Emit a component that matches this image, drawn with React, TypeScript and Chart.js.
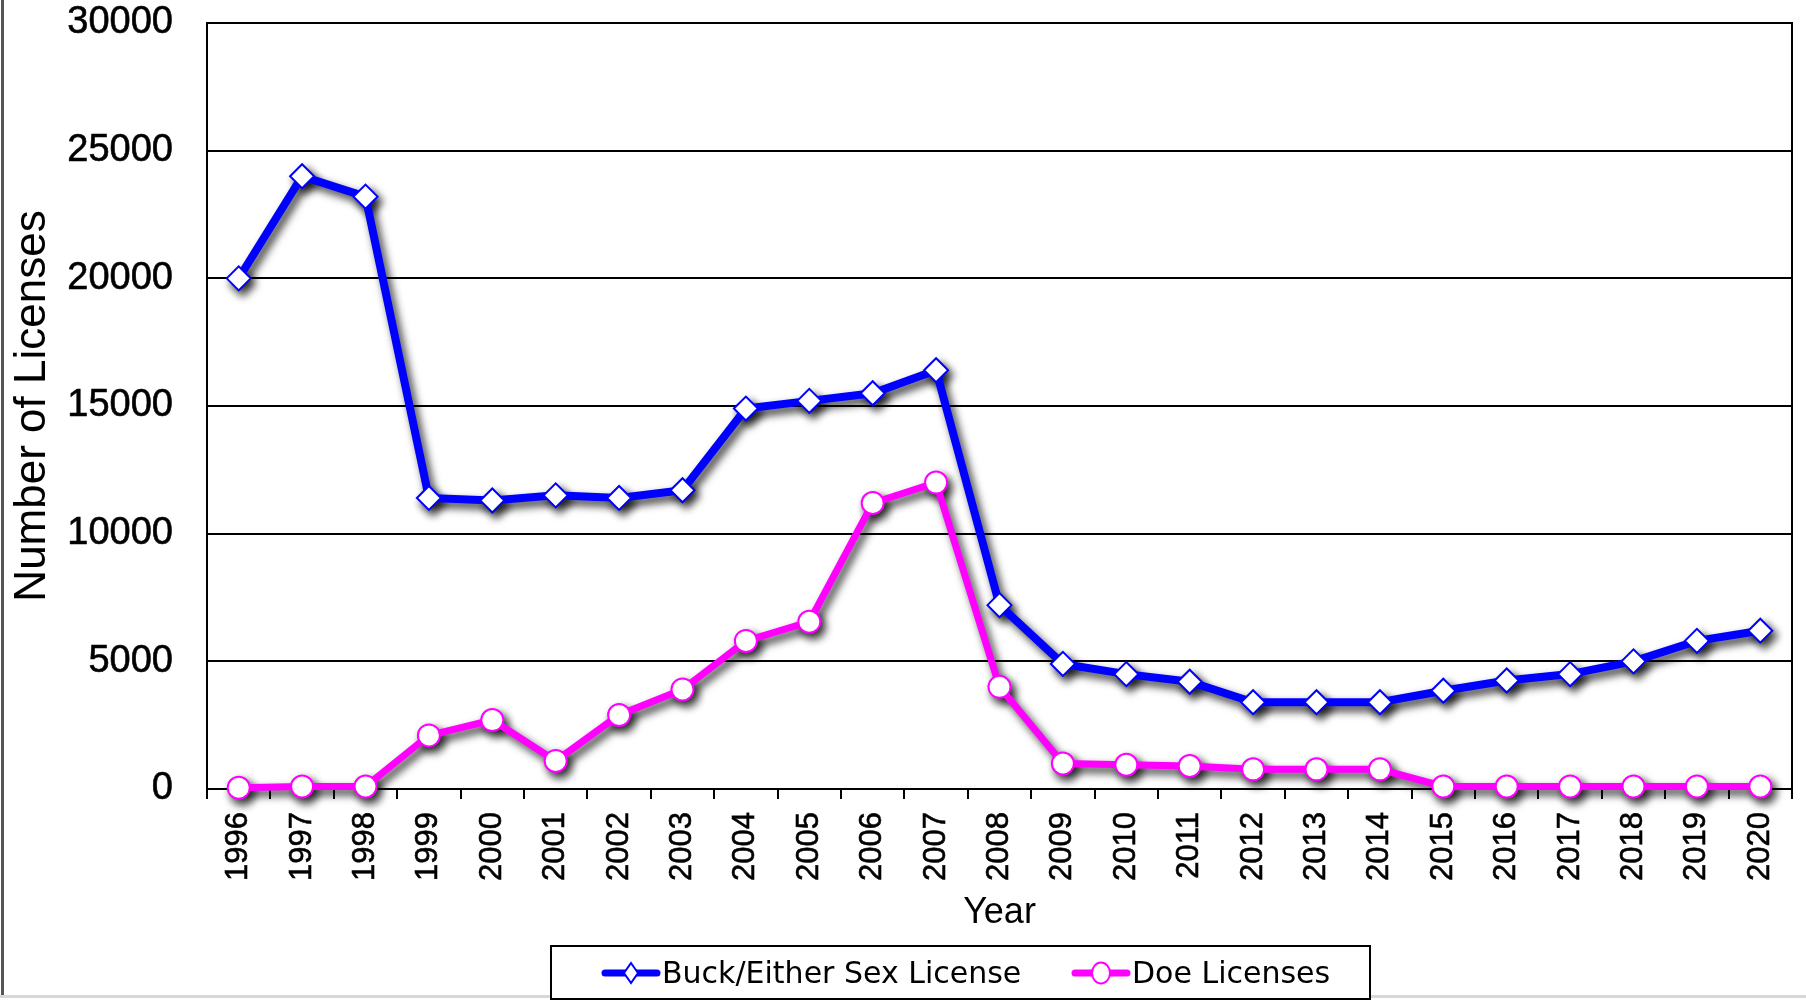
import React, { useEffect, useRef } from "react";
import { Chart, registerables } from "chart.js";

Chart.register(...registerables);

const years = [
  "1996", "1997", "1998", "1999", "2000", "2001", "2002", "2003", "2004", "2005",
  "2006", "2007", "2008", "2009", "2010", "2011", "2012", "2013", "2014", "2015",
  "2016", "2017", "2018", "2019", "2020",
];

const buckLicenses = [
  20000, 24000, 23200, 11400, 11300, 11500, 11400, 11700, 14900, 15200,
  15500, 16400, 7200, 4900, 4500, 4200, 3400, 3400, 3400, 3850,
  4250, 4500, 5000, 5800, 6200,
];

const doeLicenses = [
  50, 100, 100, 2100, 2700, 1100, 2900, 3900, 5800, 6550,
  11200, 12000, 4000, 1000, 950, 900, 770, 770, 770, 100,
  100, 100, 100, 100, 100,
];

const yTicks = [0, 5000, 10000, 15000, 20000, 25000, 30000];

const AXIS_FONT = "'Liberation Sans', Arial, sans-serif";
const LEGEND_FONT = "'DejaVu Sans', Verdana, sans-serif";

const shadowPlugin = {
  id: "shadowPlugin",
  beforeDatasetsDraw(chart: any) {
    const ctx = chart.ctx;
    const area = chart.chartArea;
    const SHIFT = 20000;
    const metas = chart.getSortedVisibleDatasetMetas().slice().reverse();
    for (const meta of metas) {
      ctx.save();
      ctx.translate(-SHIFT, 0);
      ctx.shadowColor = "rgba(0,0,0,0.8)";
      ctx.shadowBlur = 8;
      ctx.shadowOffsetX = SHIFT + 4;
      ctx.shadowOffsetY = 5;
      if (meta.dataset) meta.dataset.draw(ctx, area);
      for (const p of meta.data) p.draw(ctx, area);
      ctx.restore();
    }
  },
};

const framePlugin = {
  id: "framePlugin",
  beforeDatasetsDraw(chart: any) {
    const ctx = chart.ctx;
    const a = chart.chartArea;
    ctx.save();
    ctx.strokeStyle = "#000";
    ctx.lineWidth = 2;
    ctx.beginPath();
    ctx.moveTo(a.left, a.top);
    ctx.lineTo(a.right, a.top);
    ctx.lineTo(a.right, a.bottom);
    ctx.stroke();
    ctx.restore();
  },
  afterDraw(chart: any) {
    const ctx = chart.ctx;
    ctx.save();
    ctx.strokeStyle = "#555";
    ctx.lineWidth = 3;
    ctx.beginPath();
    ctx.moveTo(2.5, 0);
    ctx.lineTo(2.5, 996);
    ctx.stroke();
    ctx.strokeStyle = "#d8d8d8";
    ctx.beginPath();
    ctx.moveTo(0, 996.5);
    ctx.lineTo(1806, 996.5);
    ctx.stroke();

    const bx = 551, by = 946, bw = 819, bh = 53;
    ctx.fillStyle = "#fff";
    ctx.fillRect(bx, by, bw, bh);
    ctx.strokeStyle = "#000";
    ctx.lineWidth = 2;
    ctx.strokeRect(bx, by, bw, bh);

    const cy = 973;
    const items = [
      { x0: 602, x1: 660, ds: chart.data.datasets[0], style: "diamond" },
      { x0: 1072, x1: 1130, ds: chart.data.datasets[1], style: "circle" },
    ];
    ctx.font = `30px ${LEGEND_FONT}`;
    ctx.textBaseline = "alphabetic";
    ctx.textAlign = "left";
    for (const it of items) {
      ctx.strokeStyle = it.ds.borderColor;
      ctx.lineWidth = 7;
      ctx.lineCap = "round";
      ctx.beginPath();
      ctx.moveTo(it.x0 + 3, cy);
      ctx.lineTo(it.x1 - 3, cy);
      ctx.stroke();
      const mx = (it.x0 + it.x1) / 2;
      ctx.fillStyle = "#fff";
      ctx.strokeStyle = it.ds.borderColor;
      ctx.lineWidth = 2;
      ctx.beginPath();
      if (it.style === "diamond") {
        ctx.moveTo(mx, cy - 10);
        ctx.lineTo(mx + 7, cy);
        ctx.lineTo(mx, cy + 10);
        ctx.lineTo(mx - 7, cy);
        ctx.closePath();
      } else {
        ctx.ellipse(mx, cy, 9, 10.5, 0, 0, Math.PI * 2);
      }
      ctx.fill();
      ctx.stroke();
      ctx.fillStyle = "#000";
      ctx.fillText(it.ds.label, it.x1 + 2, 983);
    }
    ctx.restore();
  },
};

export default function App() {
  const ref = useRef<HTMLCanvasElement | null>(null);

  useEffect(() => {
    if (!ref.current) return;
    const chart = new Chart(ref.current, {
      type: "line",
      data: {
        labels: years,
        datasets: [
          {
            label: "Buck/Either Sex License",
            data: buckLicenses,
            borderColor: "#0000ff",
            backgroundColor: "#ffffff",
            borderWidth: 8,
            pointStyle: "rectRot",
            pointRadius: 12,
            pointBorderWidth: 2,
            pointBackgroundColor: "#ffffff",
            pointBorderColor: "#0000ff",
            tension: 0,
            clip: false as any,
          },
          {
            label: "Doe Licenses",
            data: doeLicenses,
            borderColor: "#ff00ff",
            backgroundColor: "#ffffff",
            borderWidth: 7,
            pointStyle: "circle",
            pointRadius: 11,
            pointBorderWidth: 2,
            pointBackgroundColor: "#ffffff",
            pointBorderColor: "#ff00ff",
            tension: 0,
            clip: false as any,
          },
        ],
      },
      options: {
        responsive: false,
        animation: false,
        layout: { padding: { top: 23, right: 11, bottom: 0, left: 0 } },
        plugins: {
          legend: { display: false },
          tooltip: { enabled: false },
        },
        scales: {
          x: {
            offset: true,
            grid: {
              display: true,
              drawOnChartArea: false,
              drawTicks: true,
              tickLength: 10,
              color: "#000",
              lineWidth: 2,
              offset: true,
            },
            border: { display: true, color: "#000", width: 2 },
            ticks: {
              color: "#000",
              font: { family: AXIS_FONT, size: 31 },
              maxRotation: 90,
              minRotation: 90,
              padding: 13,
              autoSkip: false,
              textStrokeColor: "#000",
              textStrokeWidth: 0.6,
            },
            title: {
              display: true,
              text: "Year",
              color: "#000",
              font: { family: AXIS_FONT, size: 36 },
              padding: { top: 0, bottom: 66 },
            },
            afterFit: (scale: any) => {
              scale.height = 212;
              scale.paddingLeft = 0;
              scale.paddingRight = 0;
            },
          },
          y: {
            min: 0,
            max: 30000,
            afterBuildTicks: (scale: any) => {
              scale.ticks = yTicks.map((v) => ({ value: v }));
            },
            grid: {
              color: "#000",
              lineWidth: 2,
              drawTicks: false,
            },
            border: { display: true, color: "#000", width: 2 },
            ticks: {
              color: "#000",
              font: { family: AXIS_FONT, size: 38 },
              padding: 34,
              textStrokeColor: "#000",
              textStrokeWidth: 0.6,
              callback: (v: any) => String(v),
            },
            title: {
              display: true,
              text: "Number of Licenses",
              color: "#000",
              font: { family: AXIS_FONT, size: 44 },
              padding: { top: 6, bottom: 0 },
            },
            afterFit: (scale: any) => {
              scale.width = 207;
              scale.paddingTop = 0;
              scale.paddingBottom = 0;
            },
          },
        },
      },
      plugins: [framePlugin, shadowPlugin],
    });
    return () => chart.destroy();
  }, []);

  return (
    <div style={{ position: "fixed", left: 0, top: 0, width: 1806, height: 1001, background: "#fff" }}>
      <canvas ref={ref} width={1806} height={1001} style={{ display: "block", width: 1806, height: 1001 }} />
    </div>
  );
}
